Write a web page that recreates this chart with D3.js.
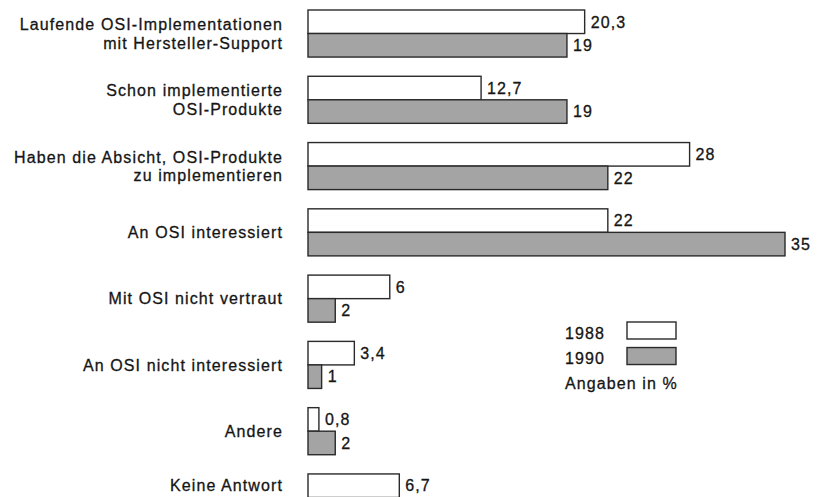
<!DOCTYPE html>
<html>
<head>
<meta charset="utf-8">
<script src="https://cdn.jsdelivr.net/npm/d3@7"></script>
<style>
  html, body { margin: 0; padding: 0; background: #fff; overflow: hidden; }
  svg { display: block; font-family: "Liberation Sans", Arial, sans-serif; }
  svg text { font-size: 16px; letter-spacing: 1.1px; fill: #151515; stroke: #151515; stroke-width: 0.3px; }
</style>
</head>
<body>
<div id="chart"></div>
<script>
// ── Data ────────────────────────────────────────────────────
const categories = [
  ['Laufende OSI-Implementationen', 'mit Hersteller-Support'],
  ['Schon implementierte', 'OSI-Produkte'],
  ['Haben die Absicht, OSI-Produkte', 'zu implementieren'],
  ['An OSI interessiert'],
  ['Mit OSI nicht vertraut'],
  ['An OSI nicht interessiert'],
  ['Andere'],
  ['Keine Antwort']
];
const years = ['1988', '1990'];
const values1988 = [20.3, 12.7, 28, 22, 6, 3.4, 0.8, 6.7];
const values1990 = [19, 19, 22, 35, 2, 1, 2, null];   // last one cut off in the source
const valueLabels1988 = ['20,3', '12,7', '28', '22', '6', '3,4', '0,8', '6,7'];
const valueLabels1990 = ['19', '19', '22', '35', '2', '1', '2', ''];
const legendNote = 'Angaben in %';

// ── Layout ──────────────────────────────────────────────────
const W = 832, H = 497;
const ink = '#2a2a2a';
const fill1990 = '#a4a4a4';

const svg = d3.select('#chart').append('svg')
  .attr('width', W)
  .attr('height', H);

const keys = categories.map((c, i) => 'c' + i);
const rows = keys.map((k, i) => ({
  key: k,
  label: categories[i],
  bars: [
    { year: years[0], v: values1988[i], txt: valueLabels1988[i] },
    { year: years[1], v: values1990[i], txt: valueLabels1990[i] }
  ].filter(b => b.v != null)
}));

const x = d3.scaleLinear().domain([0, 35]).range([308, 785]);
const y = d3.scaleBand().domain(keys).range([10, 521]).paddingInner(0.29).paddingOuter(0);
const ySub = d3.scaleBand().domain(years).range([0, y.bandwidth()]);

const groups = svg.append('g').selectAll('g.row')
  .data(rows).join('g')
  .attr('class', 'row')
  .attr('transform', d => `translate(0,${y(d.key)})`);

// bars
groups.selectAll('rect.bar')
  .data(d => d.bars).join('rect')
  .attr('class', 'bar')
  .attr('x', x(0))
  .attr('y', b => ySub(b.year))
  .attr('width', b => x(b.v) - x(0))
  .attr('height', ySub.bandwidth())
  .attr('fill', b => b.year === '1988' ? '#fff' : fill1990)
  .attr('stroke', ink)
  .attr('stroke-width', 1.4);

// value labels
groups.selectAll('text.val')
  .data(d => d.bars).join('text')
  .attr('class', 'val')
  .attr('x', b => x(b.v) + 6)
  .attr('y', b => ySub(b.year) + ySub.bandwidth() / 2)
  .attr('dy', '0.36em')
  .text(b => b.txt);

// category labels (centred on the drawn bars)
const lineH = 18.5;
groups.append('text')
  .attr('class', 'cat')
  .attr('text-anchor', 'end')
  .each(function (d) {
    const mid = d.bars.length * ySub.bandwidth() / 2;
    const n = d.label.length;
    d3.select(this).selectAll('tspan')
      .data(d.label).join('tspan')
      .attr('x', 283)
      .attr('y', (t, i) => mid + (i - (n - 1) / 2) * lineH)
      .attr('dy', '0.36em')
      .text(t => t);
  });

// ── Legend ──────────────────────────────────────────────────
const legend = svg.append('g').attr('transform', 'translate(565,330)');
const ly = d3.scaleBand().domain(years).range([0, 48]).paddingInner(0.12);

legend.selectAll('rect')
  .data(years).join('rect')
  .attr('x', 62)
  .attr('y', d => ly(d) - 8)
  .attr('width', 49)
  .attr('height', 17)
  .attr('fill', d => d === '1988' ? '#fff' : fill1990)
  .attr('stroke', ink)
  .attr('stroke-width', 1.4);

legend.selectAll('text.yr')
  .data(years).join('text')
  .attr('class', 'yr')
  .attr('x', 0)
  .attr('y', d => ly(d) + 3)
  .attr('dy', '0.36em')
  .text(d => d);

legend.append('text')
  .attr('x', 0)
  .attr('y', 53)
  .attr('dy', '0.36em')
  .text(legendNote);
</script>
</body>
</html>
